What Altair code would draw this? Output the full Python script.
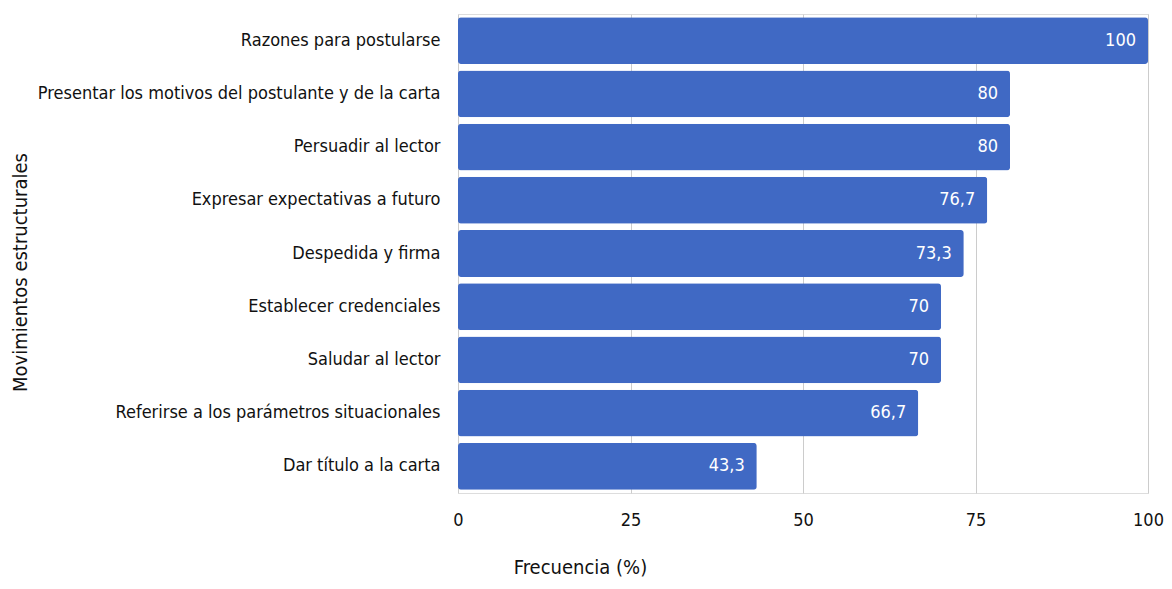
import altair as alt
import pandas as pd

categorias = [
    "Razones para postularse",
    "Presentar los motivos del postulante y de la carta",
    "Persuadir al lector",
    "Expresar expectativas a futuro",
    "Despedida y firma",
    "Establecer credenciales",
    "Saludar al lector",
    "Referirse a los parámetros situacionales",
    "Dar título a la carta",
]
valores = [100, 80, 80, 76.7, 73.3, 70, 70, 66.7, 43.3]
etiquetas = ["100", "80", "80", "76,7", "73,3", "70", "70", "66,7", "43,3"]

df = pd.DataFrame({"cat": categorias, "val": valores, "lab": etiquetas})

FONT = "DejaVu Sans Condensed"

base = alt.Chart(df).encode(
    y=alt.Y("cat:N", sort=categorias,
            scale=alt.Scale(paddingInner=0.12, paddingOuter=0.06),
            axis=alt.Axis(title="Movimientos estructurales", labelFontSize=18,
                          titleFontSize=20, titleFontWeight="normal",
                          labelPadding=18, ticks=False, domain=False,
                          labelColor="#111", titleColor="#111",
                          labelFont=FONT, titleFont=FONT,
                          titleX=-438, titleY=258, titleAngle=-90,
                          titleAlign="center", titleBaseline="middle",
                          labelLimit=600)),
)

bars = base.mark_bar(color="#4069C4", cornerRadius=3).encode(
    x=alt.X("val:Q", scale=alt.Scale(domain=[0, 100]),
            axis=alt.Axis(title="Frecuencia (%)", values=[0, 25, 50, 75, 100],
                          labelFontSize=18, titleFontSize=20,
                          titleFontWeight="normal", labelPadding=18,
                          labelFlush=False,
                          ticks=False, domain=False, grid=True,
                          gridColor="#cccccc", labelColor="#111",
                          titleColor="#111", labelFont=FONT, titleFont=FONT,
                          titleX=122, titleY=74, titleAlign="center",
                          titleBaseline="middle")),
)

text = base.mark_text(align="right", dx=-12, color="white", fontSize=18,
                      font=FONT).encode(
    x="val:Q",
    text="lab:N",
)

chart = (bars + text).properties(
    width=690, height=479,
    autosize=alt.AutoSizeParams(type="none"),
    padding={"left": 450, "top": 6, "right": 16, "bottom": 88},
).configure_view(stroke=None).configure(background="white")

chart.save("out.html", embed_options={"renderer": "svg", "actions": False})
